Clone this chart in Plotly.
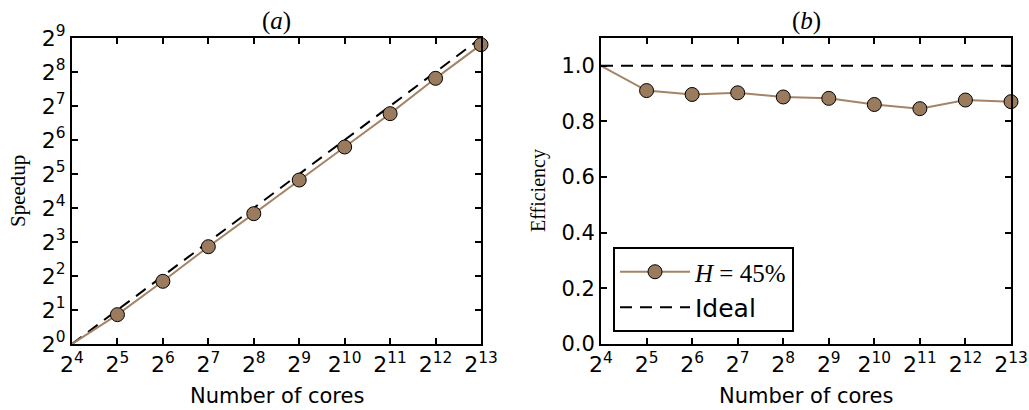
import plotly.graph_objects as go

cores = [16, 32, 64, 128, 256, 512, 1024, 2048, 4096, 8192]
speedup = [1.0, 1.82, 3.59, 7.27, 14.25, 28.3, 55.5, 109.5, 225.0, 447.0]
ideal_speedup = [1, 2, 4, 8, 16, 32, 64, 128, 256, 512]
efficiency = [1.0, 0.911, 0.897, 0.903, 0.888, 0.883, 0.861, 0.846, 0.877, 0.871]
ideal_eff = [1.0] * 10

x_tickvals = cores
x_ticktext = ["2<sup>%d</sup>" % k for k in range(4, 14)]
y_tickvals_a = [2 ** k for k in range(0, 10)]
y_ticktext_a = ["2<sup>%d</sup>" % k for k in range(0, 10)]
y_tickvals_b = [0.0, 0.2, 0.4, 0.6, 0.8, 1.0]

series_label = "<span style='font-family:Liberation Serif'><i>H</i> = 45%</span>"
ideal_label = "Ideal"

MARK = "#9b7b5e"
LINE = "#a58466"

fig = go.Figure()

# (a)
fig.add_trace(go.Scatter(x=cores, y=ideal_speedup, mode="lines",
                         line=dict(color="black", width=2, dash="12px,8px"),
                         xaxis="x", yaxis="y", showlegend=False))
fig.add_trace(go.Scatter(x=cores, y=speedup, mode="lines+markers",
                         line=dict(color=LINE, width=2),
                         marker=dict(size=14, color=MARK, line=dict(color="black", width=1)),
                         xaxis="x", yaxis="y", showlegend=False, cliponaxis=False))
# (b)
fig.add_trace(go.Scatter(x=cores, y=efficiency, mode="lines+markers",
                         name=series_label,
                         line=dict(color=LINE, width=2),
                         marker=dict(size=14, color=MARK, line=dict(color="black", width=1)),
                         xaxis="x2", yaxis="y2", cliponaxis=False))
fig.add_trace(go.Scatter(x=cores, y=ideal_eff, mode="lines", name=ideal_label,
                         line=dict(color="black", width=2, dash="12px,8px"),
                         xaxis="x2", yaxis="y2"))

pow_font = dict(family="DejaVu Sans", size=22, color="black")
num_font = dict(family="DejaVu Sans", size=21, color="black")
common = dict(showline=True, linecolor="black", linewidth=2, mirror="allticks",
              ticks="inside", ticklen=6, tickwidth=1.5, tickcolor="black",
              showgrid=False, zeroline=False, automargin=False)

ydom = [1 - 344 / 410, 1 - 38 / 410]


def ann(text, x, y, size, family, angle=0):
    return dict(text=text, x=x / 1029, y=1 - y / 410, xref="paper", yref="paper",
                xanchor="center", yanchor="middle", showarrow=False, textangle=angle,
                font=dict(family=family, size=size, color="black"))


fig.update_layout(
    width=1029, height=410,
    margin=dict(l=0, r=0, t=0, b=0),
    paper_bgcolor="white", plot_bgcolor="white",
    xaxis=dict(domain=[72 / 1029, 481 / 1029], type="log",
               range=[1.20412, 3.91339], tickvals=x_tickvals, ticktext=x_ticktext,
               anchor="y", tickfont=pow_font, **common),
    yaxis=dict(domain=ydom, type="log", range=[0, 2.70927],
               tickvals=y_tickvals_a, ticktext=y_ticktext_a, anchor="x",
               tickfont=pow_font, **common),
    xaxis2=dict(domain=[601 / 1029, 1011 / 1029], type="log",
                range=[1.20412, 3.91339], tickvals=x_tickvals, ticktext=x_ticktext,
                anchor="y2", tickfont=pow_font, **common),
    yaxis2=dict(domain=ydom, range=[0, 1.1], tickvals=y_tickvals_b,
                tickformat=".1f", anchor="x2", tickfont=num_font, **common),
    legend=dict(x=613 / 1029, y=1 - 332 / 410, xanchor="left", yanchor="bottom",
                bordercolor="black", borderwidth=2, bgcolor="white",
                font=dict(family="DejaVu Sans", size=25, color="black"),
                tracegroupgap=0, itemwidth=70),
    annotations=[
        ann("(<i>a</i>)", (72 + 481) / 2, 21, 25, "Liberation Serif"),
        ann("(<i>b</i>)", (601 + 1011) / 2, 21, 25, "Liberation Serif"),
        ann("Speedup", 18, 191, 21, "Liberation Serif", -90),
        ann("Efficiency", 538, 191, 20, "Liberation Serif", -90),
        ann("Number of cores", (72 + 481) / 2, 396, 21, "DejaVu Sans"),
        ann("Number of cores", (601 + 1011) / 2, 396, 21, "DejaVu Sans"),
    ],
)

fig.write_html("out.html", config={"displayModeBar": False},
               post_script="document.body.style.margin='0';")
